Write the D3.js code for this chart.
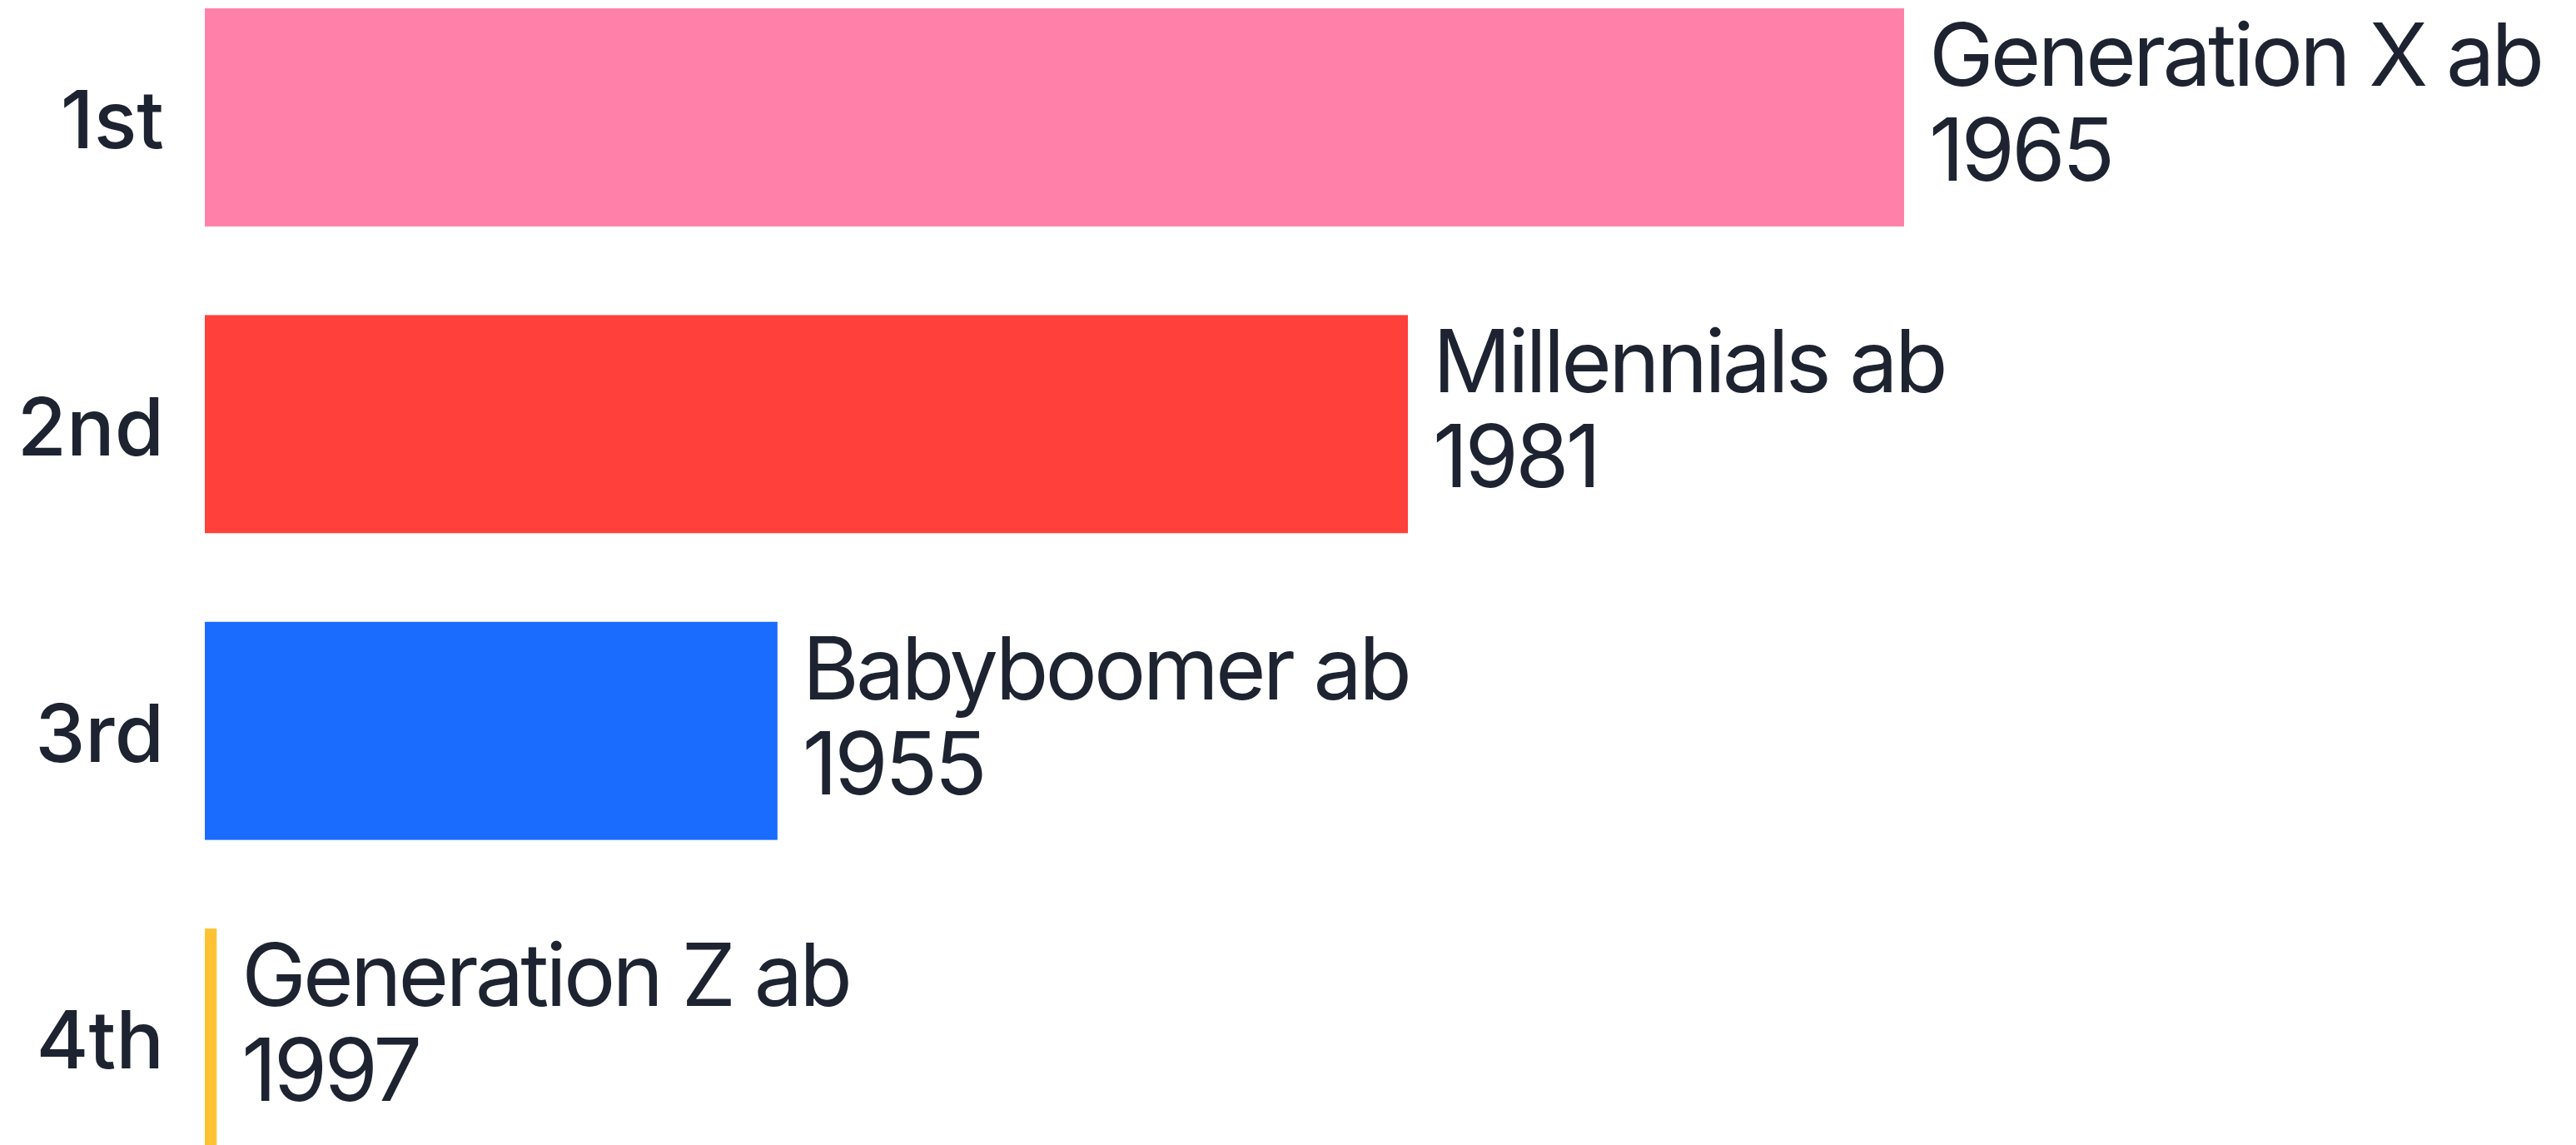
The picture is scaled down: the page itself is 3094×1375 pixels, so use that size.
<!DOCTYPE html>
<html>
<head>
<meta charset="utf-8">
<script src="https://cdn.jsdelivr.net/npm/d3@7"></script>
<style>
    html, body { margin: 0; padding: 0; background: #ffffff; }
    svg { display: block; }
    .rank { font-family: Inter, "Noto Sans", sans-serif; font-weight: 500; fill: #1d2330; }
    .name { font-family: Inter, "Noto Sans", sans-serif; font-weight: 400; fill: #1d2330; letter-spacing: -3.8px; }
</style>
</head>
<body>
<svg></svg>
<script>
'use strict';

// chart data
var ranks = ["1st", "2nd", "3rd", "4th"];
var generations = ["Generation X ab", "Millennials ab", "Babyboomer ab", "Generation Z ab"];
var years = ["1965", "1981", "1955", "1997"];
var values = [100, 70.8, 33.7, 0.7];
var colors = ["#ff80a8", "#ff403b", "#1a6bff", "#ffc233"];

var width = 3094;
var height = 1375;

var svg = d3.select("svg")
    .attr("width", width)
    .attr("height", height);

var x = d3.scaleLinear()
    .domain([0, 100])
    .range([246, 2287]);

var y = d3.scaleBand()
    .domain(ranks)
    .range([10, 1377])
    .paddingInner(0.289)
    .paddingOuter(0);

var rows = ranks.map(function (r, i) {
    return {rank: r, name: generations[i], year: years[i], value: values[i], color: colors[i]};
});

// bars
svg.selectAll(".bar")
    .data(rows)
    .enter()
    .append("rect")
    .attr("class", "bar")
    .attr("x", x(0))
    .attr("y", function (d) { return y(d.rank); })
    .attr("width", function (d) { return x(d.value) - x(0); })
    .attr("height", y.bandwidth())
    .attr("fill", function (d) { return d.color; });

// rank labels on the left
svg.selectAll(".rank")
    .data(rows)
    .enter()
    .append("text")
    .attr("class", "rank")
    .attr("x", 197)
    .attr("y", function (d) { return y(d.rank) + y.bandwidth() / 2; })
    .attr("dy", "0.39em")
    .attr("text-anchor", "end")
    .attr("font-size", 96)
    .text(function (d) { return d.rank; });

// name + year labels after the bar end
var labels = svg.selectAll(".name")
    .data(rows)
    .enter()
    .append("text")
    .attr("class", "name")
    .attr("font-size", 104)
    .attr("x", function (d) { return x(d.value) + 30; })
    .attr("y", function (d) { return y(d.rank) + y.bandwidth() / 2 - 38; });

labels.append("tspan")
    .text(function (d) { return d.name; });

labels.append("tspan")
    .attr("x", function (d) { return x(d.value) + 30; })
    .attr("dy", 114)
    .text(function (d) { return d.year; });
</script>
</body>
</html>
